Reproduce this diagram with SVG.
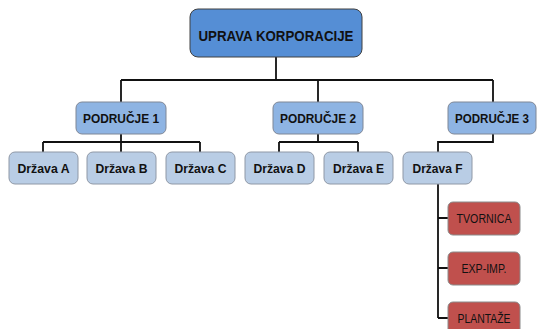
<svg xmlns="http://www.w3.org/2000/svg" width="537" height="329" viewBox="0 0 537 329">
  <style>
    .lbl { font-family: "Liberation Sans", Arial, sans-serif; text-anchor: middle; fill: #111; }
    .b { font-weight: bold; }
    .top { fill: #558ED5; stroke: #404040; stroke-width: 1; }
    .reg { fill: #8EB4E3; stroke: #7f8796; stroke-width: 1; }
    .st { fill: #B9CDE5; stroke: #8f98a6; stroke-width: 1; }
    .unit { fill: #C0504D; stroke: #8a8a8a; stroke-width: 1; }
    .wire { fill: none; stroke: #111; stroke-width: 1.8; }
  </style>

  <!-- connectors -->
  <g id="connectors" class="wire">
    <path d="M276 57 V80 M121 80 H493 M121 80 V102 M318 80 V102 M493 80 V102"/>
    <path d="M121 134 V142 M43 142 H200 M43 142 V152 M121 142 V152 M200 142 V152"/>
    <path d="M318 134 V142 M279 142 H358 M279 142 V152 M358 142 V152"/>
    <path d="M493 134 V142 H438 V152"/>
    <path d="M438 184 V318 M438 218 H448 M438 268 H448 M438 318 H448"/>
  </g>

  <g id="uprava">
    <rect class="top" x="190" y="9" width="172" height="48" rx="8"/>
    <text class="lbl b" x="276" y="40.5" font-size="15" textLength="155" lengthAdjust="spacingAndGlyphs">UPRAVA KORPORACIJE</text>
  </g>

  <g id="podrucje1">
    <rect class="reg" x="76" y="102" width="90" height="32" rx="6"/>
    <text class="lbl b" x="121" y="123" font-size="13" textLength="76" lengthAdjust="spacingAndGlyphs">PODRUČJE 1</text>
  </g>
  <g id="podrucje2">
    <rect class="reg" x="273" y="102" width="90" height="32" rx="6"/>
    <text class="lbl b" x="318" y="123" font-size="13" textLength="76" lengthAdjust="spacingAndGlyphs">PODRUČJE 2</text>
  </g>
  <g id="podrucje3">
    <rect class="reg" x="448" y="102" width="88" height="32" rx="6"/>
    <text class="lbl b" x="492" y="123" font-size="13" textLength="74" lengthAdjust="spacingAndGlyphs">PODRUČJE 3</text>
  </g>

  <g id="drzavaA">
    <rect class="st" x="9" y="152" width="69" height="32" rx="6"/>
    <text class="lbl b" x="43.5" y="173" font-size="13" textLength="52" lengthAdjust="spacingAndGlyphs">Država A</text>
  </g>
  <g id="drzavaB">
    <rect class="st" x="87" y="152" width="69" height="32" rx="6"/>
    <text class="lbl b" x="121.5" y="173" font-size="13" textLength="52" lengthAdjust="spacingAndGlyphs">Država B</text>
  </g>
  <g id="drzavaC">
    <rect class="st" x="166" y="152" width="69" height="32" rx="6"/>
    <text class="lbl b" x="200.5" y="173" font-size="13" textLength="52" lengthAdjust="spacingAndGlyphs">Država C</text>
  </g>
  <g id="drzavaD">
    <rect class="st" x="245" y="152" width="69" height="32" rx="6"/>
    <text class="lbl b" x="279.5" y="173" font-size="13" textLength="52" lengthAdjust="spacingAndGlyphs">Država D</text>
  </g>
  <g id="drzavaE">
    <rect class="st" x="324" y="152" width="69" height="32" rx="6"/>
    <text class="lbl b" x="358.5" y="173" font-size="13" textLength="51" lengthAdjust="spacingAndGlyphs">Država E</text>
  </g>
  <g id="drzavaF">
    <rect class="st" x="403" y="152" width="69" height="32" rx="6"/>
    <text class="lbl b" x="437.5" y="173" font-size="13" textLength="50" lengthAdjust="spacingAndGlyphs">Država F</text>
  </g>

  <g id="tvornica">
    <rect class="unit" x="448" y="202" width="72" height="33" rx="5"/>
    <text class="lbl" x="484" y="223" font-size="12.5" textLength="55" lengthAdjust="spacingAndGlyphs">TVORNICA</text>
  </g>
  <g id="expimp">
    <rect class="unit" x="448" y="252" width="72" height="33" rx="5"/>
    <text class="lbl" x="484" y="273" font-size="12.5" textLength="45" lengthAdjust="spacingAndGlyphs">EXP-IMP.</text>
  </g>
  <g id="plantaze">
    <rect class="unit" x="448" y="302" width="72" height="33" rx="5"/>
    <text class="lbl" x="484" y="323" font-size="12.5" textLength="53" lengthAdjust="spacingAndGlyphs">PLANTAŽE</text>
  </g>
</svg>
